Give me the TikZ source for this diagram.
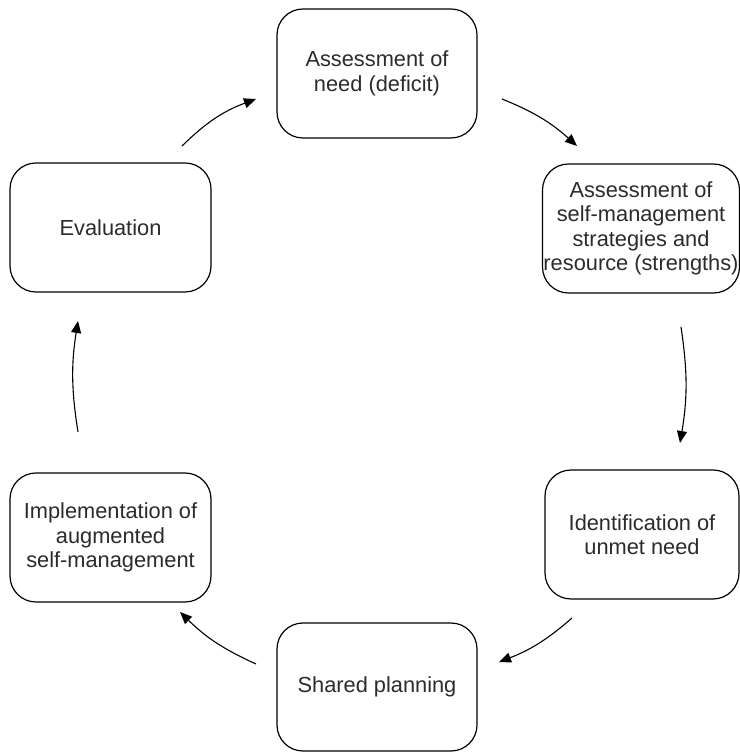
\documentclass[tikz,border=0pt]{standalone}
\usepackage{fontspec}
\setmainfont{Liberation Sans}
\usetikzlibrary{arrows.meta}
\definecolor{txt}{HTML}{2B2B2B}
\begin{document}
\begin{tikzpicture}[x=1pt,y=1pt,
  stage/.style={draw=black, line width=1.2pt, rounded corners=26pt,
    minimum height=129pt, inner sep=0pt, align=center, text=txt,
    font=\fontsize{21.8}{24.5}\selectfont},
  flow/.style={line width=1.1pt, -{Triangle[length=12pt,width=10pt]}}]
\useasboundingbox (0,0) rectangle (739,754);

% the six stages of the cycle
\node[stage, minimum width=200pt] (need)  at (377,680.5) {Assessment of\\need (deficit)};
\node[stage, minimum width=197pt] (strength) at (641,525.5) {Assessment of\\self-management\\strategies and\\resource (strengths)};
\node[stage, minimum width=194pt] (unmet) at (642,219.5) {Identification of\\unmet need};
\node[stage, minimum width=200pt, minimum height=128pt] (plan) at (377,67) {Shared planning};
\node[stage, minimum width=201pt] (impl) at (110.5,216.5) {Implementation of\\augmented\\self-management};
\node[stage, minimum width=201pt] (eval) at (110.5,526.5) {Evaluation};

% free ends of the curved arrows between the stages
\coordinate (a1s) at (182,608);  \coordinate (a1e) at (256,655);
\coordinate (a2s) at (502,655);  \coordinate (a2e) at (577,608);
\coordinate (a3s) at (681,427);  \coordinate (a3e) at (680,311);
\coordinate (a4s) at (572,136);  \coordinate (a4e) at (499,92);
\coordinate (a5s) at (256,90);   \coordinate (a5e) at (180,142);
\coordinate (a6s) at (78,322);   \coordinate (a6e) at (78,433);

\draw[flow] (a1s) to[bend left=12] (a1e);
\draw[flow] (a2s) to[bend left=10] (a2e);
\draw[flow] (a3s) to[bend left=9]  (a3e);
\draw[flow] (a4s) to[bend left=10] (a4e);
\draw[flow] (a5s) to[bend left=10] (a5e);
\draw[flow] (a6s) to[bend left=9]  (a6e);
\end{tikzpicture}
\end{document}
